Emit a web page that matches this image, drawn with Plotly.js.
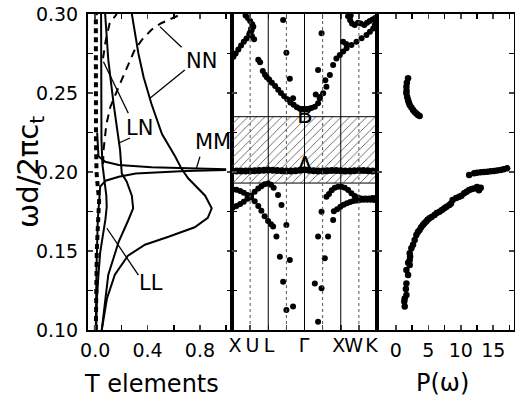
<!DOCTYPE html>
<html><head><meta charset="utf-8">
<script src="https://cdn.plot.ly/plotly-3.0.1.min.js"></script>
<style>body{margin:0;background:#fff}</style>
</head><body><div id="g" style="width:515px;height:401px"></div>
<script>
// ---------- Panel 1 : T elements ----------
var dashThickT = [0.005,0.008,0.012,0.020,0.028,0.030,0.020,0.010,0.006,0.005,0.005];
var dashThickV = [0.100,0.130,0.150,0.165,0.175,0.182,0.190,0.200,0.220,0.260,0.300];
var s1T = [0.045,0.045,0.048,0.055,0.070,0.085,0.088,0.078,0.055,0.038,0.025,0.013,0.008];
var s1V = [0.300,0.250,0.220,0.205,0.196,0.185,0.178,0.170,0.158,0.149,0.135,0.120,0.100];
var lnT = [0.076,0.100,0.140,0.165,0.190,0.203,0.240,0.280,0.290,0.250,0.180,0.100,0.050];
var lnV = [0.300,0.271,0.2435,0.2287,0.214,0.199,0.194,0.185,0.177,0.169,0.156,0.135,0.100];
var nnT = [0.28,0.33,0.37,0.43,0.51,0.61,0.66,0.71,0.84,0.89,0.86,0.76,0.56,0.38,0.25,0.15,0.09,0.05];
var nnV = [0.300,0.275,0.260,0.243,0.224,0.210,0.202,0.196,0.185,0.177,0.171,0.165,0.159,0.154,0.147,0.135,0.120,0.100];
var mmUpT = [0.015,0.025,0.077,0.180,0.430,0.690,1.000];
var mmUpV = [0.225,0.210,0.2065,0.2044,0.2030,0.2023,0.2017];
var mmLoT = [0.005,0.010,0.020,0.030,0.038,0.080,0.180,0.310,0.690,1.000];
var mmLoV = [0.100,0.140,0.170,0.185,0.1907,0.1945,0.1970,0.1990,0.2006,0.2013];
var dashT = [0.060,0.064,0.085,0.115,0.180,0.240,0.300,0.360,0.430,0.500,0.580,0.660];
var dashV = [0.205,0.214,0.230,0.241,0.254,0.266,0.277,0.284,0.290,0.294,0.297,0.300];
var dash2T = [0.060,0.080,0.110,0.165];
var dash2V = [0.272,0.283,0.294,0.300];

var tTvals = [0,0.4,0.8];
var tTtext = ['0.0','0.4','0.8'];
var tTminor = [0.2,0.6,1.0];
var yVals = [0.10,0.15,0.20,0.25,0.30];
var yText = ['0.10','0.15','0.20','0.25','0.30'];
var yMinor = [0.125,0.175,0.225,0.275];

var curveLabels = ['NN','LN','MM','LL'];
var curveLabelT = [0.81,0.34,0.90,0.43];
var curveLabelV = [0.270,0.228,0.219,0.130];

// ---------- Panel 2 : band structure ----------
var kLabels = ['X','U','L','\u0393','X','W','K'];
var kLabelPos = [0.17,1.13,2.05,3.98,5.89,6.71,7.70];
var kTicks = [0,1,2,3,4,5,6,7,8];
var gapLow = 0.193, gapHigh = 0.235;

var upX = [0.08,0.20,0.35,0.50,0.65,0.80,0.95,1.08,1.18,
  0.75,0.88,1.00,1.12,1.05,0.98,1.10,1.22,
  1.45,1.55,
  1.70,1.82,1.92,2.05,2.20,2.38,2.55,2.70,2.88,3.05,3.22,3.40,3.58,3.75,3.92,
  2.82,3.00,3.19,3.37,
  4.08,4.25,4.38,4.57,4.75,4.84,5.03,5.21,5.40,5.58,5.76,5.95,6.13,6.32,6.59,6.87,7.15,7.42,7.61,7.79,7.88,7.95,
  4.94,4.75,5.15,4.62,4.85,
  6.40,6.52,6.62,6.77,6.95,7.10,7.30,7.45,7.60,7.75,7.90,6.55,
  6.13,6.30];
var upV = [0.2730,0.2750,0.2775,0.2800,0.2825,0.2845,0.2870,0.2895,0.2920,
  0.2990,0.2975,0.2955,0.2935,0.2905,0.2880,0.2860,0.2840,
  0.2710,0.2695,
  0.2640,0.2615,0.2600,0.2585,0.2565,0.2545,0.2520,0.2500,0.2480,0.2460,0.2440,0.2425,0.2410,0.2400,0.2395,
  0.2962,0.2755,0.2590,0.2466,
  0.2395,0.2400,0.2405,0.2413,0.2435,0.2466,0.2498,0.2540,0.2614,0.2677,0.2719,0.2740,0.2762,0.2783,0.2804,0.2825,0.2846,0.2867,0.2888,0.2909,0.2930,0.2955,
  0.2878,0.2646,0.2580,0.2490,0.2475,
  0.2985,0.2960,0.2940,0.2930,0.2945,0.2940,0.2930,0.2945,0.2955,0.2965,0.2975,0.2990,
  0.2825,0.2810];

var flatX = [0,0.25,0.5,0.75,1,1.25,1.5,1.75,2,2.25,2.5,2.75,3,3.25,3.5,3.75,4,4.25,4.5,4.75,5,5.25,5.5,5.75,6,6.25,6.5,6.75,7,7.25,7.5,7.75,8];
var flatV = [0.2007,0.2007,0.2006,0.2006,0.2007,0.2008,0.2010,0.2011,0.2012,0.2011,0.2010,0.2008,0.2007,0.2006,0.2008,0.2011,0.2014,0.2011,0.2008,0.2006,0.2007,0.2008,0.2009,0.2009,0.2008,0.2007,0.2007,0.2008,0.2009,0.2009,0.2008,0.2007,0.2007];

var loX = [0.05,0.25,0.45,0.65,0.85,1.05,1.25,1.45,1.62,1.80,1.99,2.15,2.27,
  0.05,0.25,0.45,0.65,0.85,1.05,1.25,1.45,1.62,1.80,1.99,2.15,2.30,
  2.54,2.73,3.00,2.45,2.64,3.19,2.82,3.00,3.37,
  5.21,4.94,5.58,4.75,5.30,5.12,4.57,4.94,4.75,
  5.35,5.50,5.67,5.85,6.04,6.22,6.41,6.59,6.77,6.96,7.15,7.35,7.55,7.75,7.92,
  5.62,5.80,5.98,6.16,6.34,6.52,6.70,6.88,7.06,7.25,7.45,7.65,7.85];
var loV = [0.1890,0.1888,0.1880,0.1868,0.1855,0.1838,0.1815,0.1785,0.1755,0.1720,0.1690,0.1670,0.1655,
  0.1775,0.1785,0.1798,0.1812,0.1830,0.1852,0.1875,0.1895,0.1910,0.1922,0.1928,0.1920,0.1900,
  0.1854,0.1791,0.1665,0.1591,0.1464,0.1443,0.1306,0.1127,0.1148,
  0.1843,0.1748,0.1696,0.1591,0.1591,0.1454,0.1295,0.1264,0.1053,
  0.1860,0.1885,0.1900,0.1907,0.1907,0.1900,0.1886,0.1865,0.1848,0.1838,0.1833,0.1832,0.1833,0.1835,0.1836,
  0.1752,0.1765,0.1780,0.1792,0.1803,0.1810,0.1816,0.1820,0.1823,0.1825,0.1825,0.1824,0.1822];

// ---------- Panel 3 : P(omega) ----------
var pUpP = [1.88,1.70,1.63,1.65,1.63,1.75,1.88,2.00,2.14,2.40,2.65,2.90,3.16,3.40,3.67];
var pUpV = [0.2593,0.2565,0.2540,0.2515,0.2498,0.2475,0.2456,0.2440,0.2424,0.2408,0.2392,0.2380,0.2371,0.2360,0.2354];
var pFlatP = [11.30,12.06,12.50,13.08,13.60,14.10,14.60,15.11,15.60,16.13,16.60,17.15];
var pFlatV = [0.1981,0.1992,0.1995,0.1998,0.2000,0.2002,0.2004,0.2006,0.2010,0.2013,0.2018,0.2023];
var pMainP = [1.37,1.30,1.37,1.63,1.55,1.63,1.88,1.63,2.14,1.90,2.14,2.20,2.14,2.39,2.65,2.90,3.16,3.40,3.66,3.90,4.17,4.40,4.68,4.90,5.19,5.50,5.95,6.30,6.72,7.10,7.48,7.80,8.24,8.50,8.75,9.30,9.77,10.10,10.53,10.90,11.30,11.70,12.06,12.50,13.08,12.80];
var pMainV = [0.1148,0.1180,0.1200,0.1222,0.1260,0.1295,0.1348,0.1380,0.1411,0.1425,0.1443,0.1465,0.1485,0.1517,0.1540,0.1570,0.1601,0.1620,0.1633,0.1650,0.1665,0.1675,0.1686,0.1697,0.1707,0.1715,0.1728,0.1740,0.1749,0.1760,0.1770,0.1780,0.1791,0.1800,0.1822,0.1835,0.1843,0.1850,0.1865,0.1875,0.1886,0.1893,0.1896,0.1905,0.1900,0.1885];
var pTickVals = [0,5,10,15];
var pTickText = ['0','5','10','15'];
var pMinor = [2.5,7.5,12.5,17.5];

var FONT = 'DejaVu Sans';
function line(x,y,dash,w){return {x:x,y:y,type:'scatter',mode:'lines',xaxis:'x',yaxis:'y',line:{color:'black',width:w||2,dash:dash||'solid'},hoverinfo:'skip'};}
function dots(x,y,xa,ya,s){return {x:x,y:y,type:'scatter',mode:'markers',xaxis:xa,yaxis:ya,marker:{color:'black',size:s||6},hoverinfo:'skip'};}

var traces = [
  line(dashThickT,dashThickV,'5px,4px',4),
  line(s1T,s1V),
  line(lnT,lnV),
  line(nnT,nnV),
  line(mmUpT,mmUpV),
  line(mmLoT,mmLoV),
  line(dashT,dashV,'8px,6px',2),
  line(dash2T,dash2V,'8px,6px',2),
  {x:[0,8,8,0,0],y:[gapLow,gapLow,gapHigh,gapHigh,gapLow],type:'scatter',mode:'lines',fill:'toself',
   xaxis:'x2',yaxis:'y2',line:{color:'black',width:1},fillcolor:'rgba(0,0,0,0)',
   fillpattern:{shape:'/',fgcolor:'#555',bgcolor:'rgba(255,255,255,0)',size:6,solidity:0.14},hoverinfo:'skip'},
  dots(upX,upV,'x2','y2'),
  dots(flatX,flatV,'x2','y2',7),
  dots(loX,loV,'x2','y2'),
  dots(pUpP,pUpV,'x3','y3',6.5),
  dots(pFlatP,pFlatV,'x3','y3',6.5),
  dots(pMainP,pMainV,'x3','y3',6.5)
];

function minorTicks(vals){return {tickvals:vals,ticks:'inside',ticklen:5,tickwidth:1.5,tickcolor:'black',showgrid:false};}
function yax(anchor,labels){
  return {range:[0.10,0.30],tickvals:yVals,ticktext:yText,ticks:'inside',ticklen:5,tickwidth:1.5,
    showline:true,linewidth:2,linecolor:'black',mirror:'ticks',showgrid:false,zeroline:false,
    minor:minorTicks(yMinor),anchor:anchor,showticklabels:labels,ticklabelstandoff:4};
}

var d1=144/426, d2=289/426;
var ann = [];
for (var i=0;i<curveLabels.length;i++){
  ann.push({x:curveLabelT[i],y:curveLabelV[i],xref:'x',yref:'y',text:curveLabels[i],showarrow:false,font:{family:FONT,size:21,color:'black'}});
}
ann.push({x:4,y:0.236,xref:'x2',yref:'y2',text:'B',showarrow:false,font:{family:FONT,size:23,color:'black'}});
ann.push({x:4,y:0.2044,xref:'x2',yref:'y2',text:'A',showarrow:false,font:{family:FONT,size:23,color:'black'}});
// axis titles
ann.push({x:-0.136,y:0.5,xref:'paper',yref:'paper',xanchor:'center',yanchor:'middle',textangle:-90,text:'\u03c9d/2\u03c0c<sub>t</sub>',showarrow:false,font:{family:FONT,size:29,color:'black'}});
ann.push({x:0.150,y:-0.171,xref:'paper',yref:'paper',xanchor:'center',yanchor:'middle',text:'T elements',showarrow:false,font:{family:FONT,size:24,color:'black'}});
ann.push({x:0.833,y:-0.168,xref:'paper',yref:'paper',xanchor:'center',yanchor:'middle',text:'P(\u03c9)',showarrow:false,font:{family:FONT,size:24,color:'black'}});

var shapes = [];
function seg(x0,y0,x1,y1){shapes.push({type:'line',xref:'x',yref:'y',x0:x0,y0:y0,x1:x1,y1:y1,line:{color:'black',width:1.3}});}
seg(0.66,0.279,0.494,0.292);
seg(0.684,0.2646,0.418,0.2466);
seg(0.253,0.2372,0.063,0.2698);
seg(0.266,0.2215,0.177,0.2182);
seg(0.80,0.2097,0.773,0.2023);
seg(0.33,0.1348,0.089,0.1644);
[2,4,6].forEach(function(k){shapes.push({type:'line',xref:'x2',yref:'y2 domain',x0:k,x1:k,y0:0,y1:1,line:{color:'black',width:1}});});
[1,3,5,7].forEach(function(k){shapes.push({type:'line',xref:'x2',yref:'y2 domain',x0:k,x1:k,y0:0,y1:1,line:{color:'#555',width:1,dash:'dot'}});});

var layout = {
  width:515,height:401,margin:{l:88,r:1,t:14,b:71},showlegend:false,
  paper_bgcolor:'white',plot_bgcolor:'white',
  font:{family:FONT,size:19,color:'black'},
  xaxis:{domain:[0,d1],range:[-0.055,1.045],tickvals:tTvals,ticktext:tTtext,ticks:'inside',ticklen:5,tickwidth:1.5,tickangle:0,
    minor:minorTicks(tTminor),
    showline:true,linewidth:2,linecolor:'black',mirror:'ticks',showgrid:false,zeroline:false,anchor:'y',ticklabelstandoff:2},
  yaxis:yax('x',true),
  xaxis2:{domain:[d1,d2],range:[0,8],tickvals:kTicks,showticklabels:false,ticks:'inside',ticklen:5,tickwidth:1.5,
    showline:true,linewidth:2,linecolor:'black',mirror:'ticks',showgrid:false,zeroline:false,anchor:'y2'},
  xaxis4:{overlaying:'x2',anchor:'y2',range:[0,8],tickvals:kLabelPos,ticktext:kLabels,tickangle:0,ticks:'',showline:false,showgrid:false,zeroline:false,ticklabelstandoff:2},
  yaxis2:yax('x2',false),
  xaxis3:{domain:[d2,1],range:[-2.9,18.2],tickvals:pTickVals,ticktext:pTickText,ticks:'inside',ticklen:5,tickwidth:1.5,tickangle:0,
    minor:minorTicks(pMinor),
    showline:true,linewidth:2,linecolor:'black',mirror:'ticks',showgrid:false,zeroline:false,anchor:'y3',ticklabelstandoff:2},
  yaxis3:yax('x3',false),
  annotations:ann,shapes:shapes
};
traces.push({x:[0],y:[0.1],xaxis:'x4',yaxis:'y2',type:'scatter',mode:'markers',marker:{opacity:0},hoverinfo:'skip'});
Plotly.newPlot('g',traces,layout,{staticPlot:true,displayModeBar:false});
</script></body></html>
